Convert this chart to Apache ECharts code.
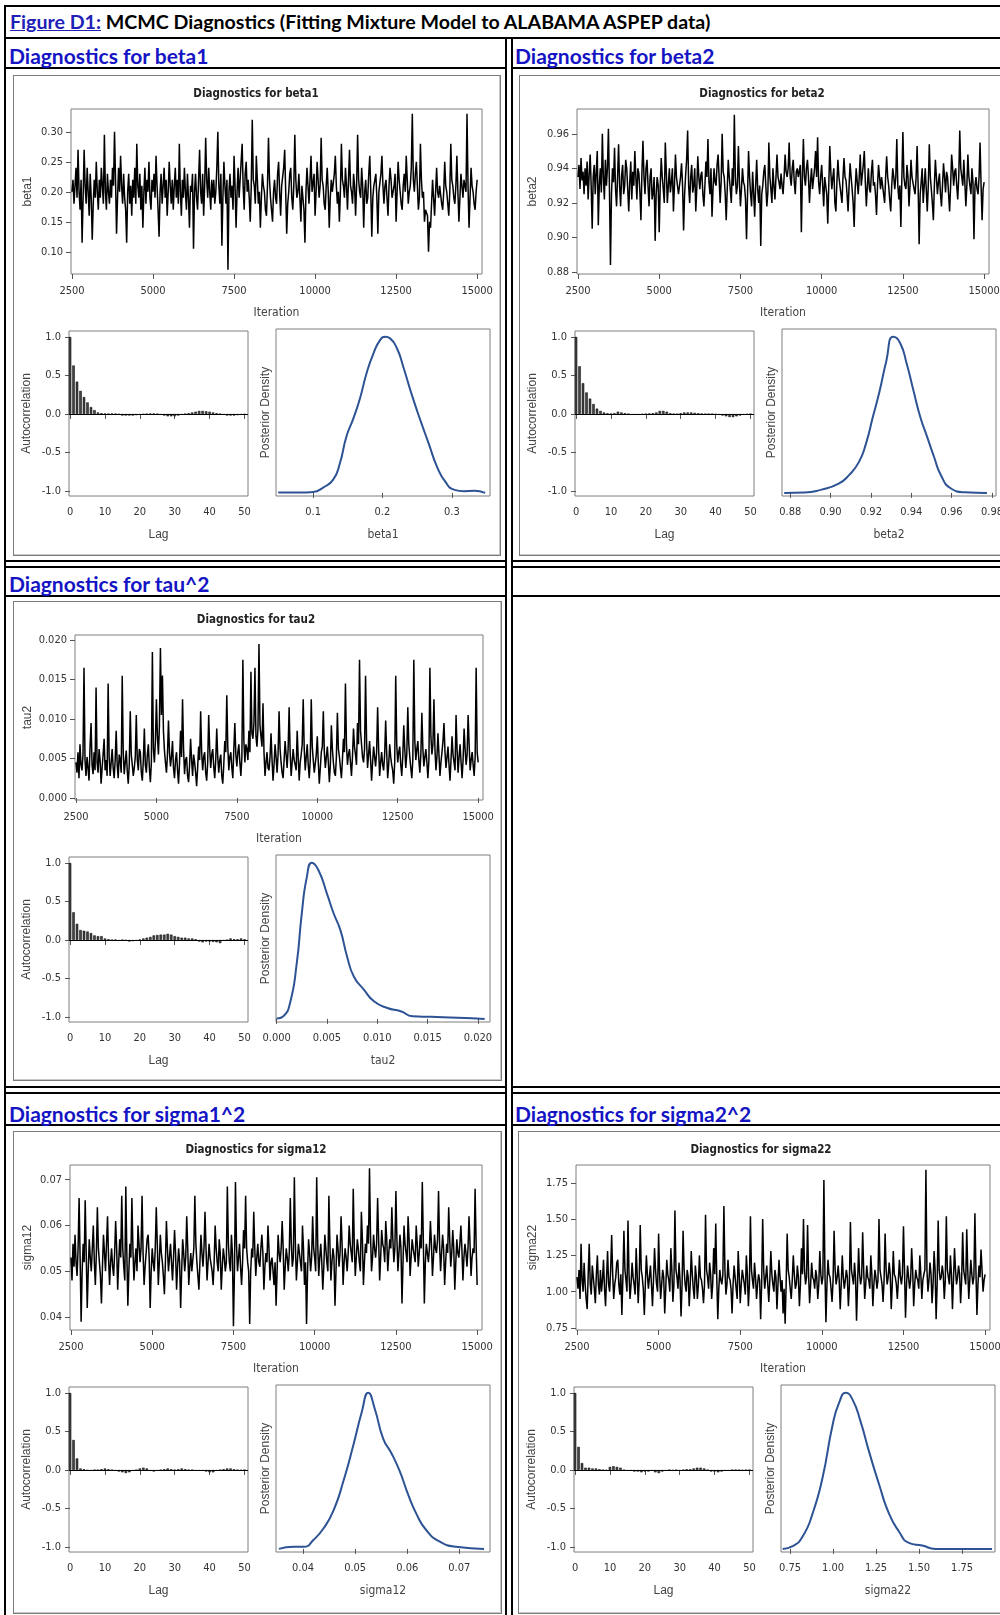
<!DOCTYPE html>
<html>
<head>
<meta charset="utf-8">
<script src="https://cdn.jsdelivr.net/npm/echarts@6/dist/echarts.min.js"></script>
<style>
  body { margin: 0; background: #fff; }
  #page { position: relative; width: 1000px; height: 1615px; overflow: hidden; background: #fff; }
  .h { position: absolute; height: 2px; background: #000; }
  .v { position: absolute; width: 2px; background: #000; }
  .hd { position: absolute; height: 26px; line-height: 26px; white-space: nowrap;
        font-family: Lato, 'Open Sans', sans-serif; font-weight: bold; font-size: 21px; color: #1414c4; }
  .pb { position: absolute; border: 1px solid #7c7c7c; box-shadow: inset -1px -1px 0 #c8c8c8; }
  #chart { position: absolute; left: 0; top: 0; width: 1000px; height: 1615px; }
</style>
</head>
<body>
<div id="page">
  <!-- table frame -->
  <div class="h" style="left:4px;top:5px;width:996px"></div>
  <div class="v" style="left:4px;top:5px;height:1610px"></div>
  <div class="h" style="left:4px;top:37px;width:996px"></div>
  <div class="v" style="left:505px;top:37px;height:1578px"></div>
  <div class="v" style="left:511px;top:37px;height:1578px"></div>

  <div class="h" style="left:4px;top:67px;width:503px"></div>
  <div class="h" style="left:511px;top:67px;width:489px"></div>
  <div class="h" style="left:4px;top:560px;width:503px"></div>
  <div class="h" style="left:511px;top:560px;width:489px"></div>

  <div class="h" style="left:4px;top:566px;width:503px"></div>
  <div class="h" style="left:511px;top:566px;width:489px"></div>
  <div class="h" style="left:4px;top:595px;width:503px"></div>
  <div class="h" style="left:511px;top:595px;width:489px"></div>
  <div class="h" style="left:4px;top:1086px;width:503px"></div>
  <div class="h" style="left:511px;top:1086px;width:489px"></div>

  <div class="h" style="left:4px;top:1092px;width:503px"></div>
  <div class="h" style="left:511px;top:1092px;width:489px"></div>
  <div class="h" style="left:4px;top:1124px;width:503px"></div>
  <div class="h" style="left:511px;top:1124px;width:489px"></div>

  <!-- headers -->
  <div class="hd" style="left:10px;top:9px;color:#000;font-size:19.6px"><span style="color:#2020b8;text-decoration:underline">Figure D1:</span> MCMC Diagnostics (Fitting Mixture Model to ALABAMA ASPEP data)</div>
  <div class="hd" style="left:9px;top:43px">Diagnostics for beta1</div>
  <div class="hd" style="left:515px;top:43px">Diagnostics for beta2</div>
  <div class="hd" style="left:9px;top:571px">Diagnostics for tau^2</div>
  <div class="hd" style="left:9px;top:1101px">Diagnostics for sigma1^2</div>
  <div class="hd" style="left:515px;top:1101px">Diagnostics for sigma2^2</div>

  <!-- SAS panel frames -->
  <div class="pb" style="left:13px;top:75px;width:486px;height:479px"></div>
  <div class="pb" style="left:519px;top:75px;width:500px;height:479px"></div>
  <div class="pb" style="left:13px;top:601px;width:487px;height:478px"></div>
  <div class="pb" style="left:13px;top:1131px;width:487px;height:481px"></div>
  <div class="pb" style="left:518px;top:1131px;width:500px;height:481px"></div>

  <div id="chart"></div>
</div>
<script>
// ---- data ----
const ITER_START = 2500;
const ITER_STEP = 31.25;

const traceTicks = [2500, 5000, 7500, 10000, 12500, 15000];
const lagTicks = [0, 10, 20, 30, 40, 50];
const acfTicks = [-1, -0.5, 0, 0.5, 1];

const traceBeta1 = [
  0.20,0.22,0.18,0.21,0.24,0.19,0.27,0.2,0.17,0.22,0.115,0.19,0.27,0.21,0.18,0.24,0.2,0.16,0.23,0.19,
  0.12,0.18,0.22,0.19,0.25,0.2,0.17,0.22,0.19,0.24,0.21,0.18,0.295,0.2,0.17,0.23,0.2,0.18,0.22,0.19,
  0.24,0.21,0.30,0.22,0.13,0.19,0.24,0.2,0.26,0.21,0.18,0.23,0.19,0.17,0.115,0.2,0.23,0.18,0.21,0.16,
  0.22,0.19,0.24,0.18,0.28,0.21,0.19,0.23,0.17,0.21,0.14,0.2,0.24,0.18,0.22,0.2,0.25,0.19,0.17,0.22,
  0.2,0.23,0.19,0.26,0.21,0.17,0.125,0.2,0.23,0.18,0.21,0.24,0.19,0.22,0.16,0.2,0.25,0.21,0.18,0.22,
  0.17,0.21,0.24,0.19,0.22,0.18,0.28,0.2,0.16,0.22,0.19,0.24,0.2,0.17,0.23,0.19,0.14,0.21,0.2,0.23,
  0.105,0.2,0.23,0.19,0.17,0.22,0.27,0.2,0.18,0.23,0.16,0.21,0.29,0.22,0.19,0.24,0.2,0.17,0.22,0.19,
  0.22,0.18,0.2,0.24,0.30,0.21,0.18,0.23,0.11,0.19,0.25,0.21,0.18,0.22,0.07,0.2,0.23,0.19,0.21,0.17,
  0.26,0.21,0.14,0.2,0.24,0.19,0.22,0.25,0.28,0.21,0.17,0.23,0.25,0.2,0.22,0.19,0.15,0.21,0.32,0.22,
  0.21,0.18,0.26,0.22,0.18,0.2,0.14,0.19,0.23,0.21,0.2,0.17,0.16,0.21,0.29,0.22,0.19,0.17,0.15,0.2,
  0.22,0.19,0.18,0.23,0.25,0.2,0.16,0.21,0.21,0.24,0.27,0.2,0.13,0.18,0.2,0.23,0.24,0.19,0.17,0.21,
  0.295,0.22,0.19,0.2,0.23,0.19,0.15,0.21,0.21,0.17,0.115,0.2,0.24,0.21,0.18,0.22,0.26,0.2,0.2,0.23,
  0.16,0.2,0.25,0.22,0.19,0.21,0.29,0.22,0.21,0.18,0.17,0.21,0.24,0.2,0.14,0.19,0.22,0.2,0.2,0.23,
  0.26,0.21,0.18,0.2,0.15,0.2,0.28,0.22,0.21,0.19,0.24,0.21,0.17,0.22,0.27,0.21,0.2,0.18,0.23,0.21,
  0.16,0.21,0.295,0.22,0.2,0.19,0.24,0.21,0.14,0.2,0.22,0.18,0.19,0.23,0.26,0.2,0.125,0.19,0.21,0.22,
  0.23,0.19,0.13,0.2,0.2,0.23,0.26,0.21,0.18,0.21,0.22,0.19,0.16,0.21,0.24,0.22,0.19,0.2,0.21,0.23,
  0.15,0.2,0.25,0.22,0.2,0.18,0.17,0.21,0.23,0.2,0.26,0.22,0.18,0.2,0.21,0.24,0.33,0.22,0.2,0.23,
  0.25,0.21,0.17,0.19,0.28,0.22,0.19,0.2,0.15,0.17,0.17,0.16,0.10,0.15,0.14,0.18,0.22,0.19,0.16,0.2,
  0.24,0.2,0.19,0.21,0.21,0.18,0.17,0.2,0.25,0.21,0.2,0.18,0.16,0.2,0.28,0.22,0.21,0.19,0.18,0.21,
  0.26,0.2,0.15,0.19,0.23,0.21,0.19,0.22,0.22,0.2,0.33,0.21,0.14,0.19,0.24,0.21,0.2,0.18,0.17,0.2,
  0.22
];
const traceBeta2 = [
  0.935,0.942,0.928,0.946,0.933,0.938,0.925,0.94,0.93,0.944,0.922,0.936,0.948,0.93,0.905,0.935,0.942,0.925,0.938,0.95,
  0.907,0.93,0.94,0.926,0.960,0.935,0.922,0.945,0.93,0.94,0.963,0.928,0.884,0.925,0.94,0.932,0.952,0.928,0.918,0.935,
  0.954,0.93,0.918,0.936,0.942,0.925,0.93,0.945,0.94,0.928,0.915,0.932,0.944,0.922,0.938,0.93,0.95,0.935,0.922,0.94,
  0.937,0.926,0.91,0.938,0.956,0.935,0.925,0.94,0.945,0.93,0.918,0.935,0.94,0.922,0.926,0.935,0.898,0.925,0.935,0.93,
  0.903,0.93,0.946,0.935,0.928,0.92,0.955,0.938,0.92,0.93,0.94,0.926,0.932,0.94,0.915,0.93,0.948,0.935,0.93,0.925,
  0.924,0.935,0.943,0.93,0.904,0.925,0.936,0.945,0.962,0.93,0.92,0.935,0.942,0.926,0.93,0.94,0.915,0.928,0.947,0.935,
  0.928,0.936,0.938,0.925,0.918,0.93,0.944,0.935,0.957,0.932,0.925,0.94,0.912,0.928,0.94,0.932,0.93,0.942,0.948,0.935,
  0.92,0.932,0.96,0.938,0.935,0.925,0.91,0.928,0.945,0.935,0.928,0.92,0.94,0.93,0.971,0.935,0.925,0.93,0.953,0.932,
  0.918,0.928,0.94,0.932,0.93,0.922,0.899,0.925,0.95,0.935,0.925,0.918,0.938,0.926,0.912,0.93,0.945,0.928,0.92,0.93,
  0.895,0.925,0.93,0.938,0.942,0.93,0.918,0.926,0.955,0.935,0.928,0.92,0.94,0.93,0.922,0.935,0.948,0.935,0.932,0.928,
  0.937,0.93,0.925,0.935,0.948,0.938,0.935,0.94,0.955,0.935,0.93,0.94,0.945,0.932,0.925,0.938,0.94,0.935,0.935,0.942,
  0.903,0.935,0.957,0.935,0.93,0.94,0.945,0.935,0.92,0.932,0.94,0.928,0.928,0.94,0.95,0.935,0.958,0.932,0.925,0.935,
  0.942,0.93,0.918,0.935,0.935,0.925,0.908,0.93,0.953,0.938,0.928,0.935,0.94,0.92,0.915,0.932,0.945,0.935,0.93,0.925,
  0.92,0.935,0.946,0.935,0.933,0.925,0.915,0.93,0.943,0.935,0.928,0.92,0.906,0.928,0.94,0.932,0.925,0.935,0.948,0.93,
  0.93,0.942,0.95,0.932,0.918,0.93,0.94,0.928,0.926,0.938,0.945,0.93,0.932,0.925,0.913,0.93,0.942,0.935,0.928,0.935,
  0.936,0.925,0.92,0.935,0.947,0.935,0.93,0.922,0.915,0.93,0.94,0.935,0.928,0.935,0.957,0.93,0.922,0.93,0.906,0.935,
  0.961,0.935,0.93,0.928,0.942,0.935,0.918,0.93,0.945,0.935,0.935,0.928,0.925,0.935,0.953,0.93,0.896,0.925,0.932,0.94,
  0.92,0.93,0.94,0.928,0.915,0.93,0.954,0.935,0.928,0.92,0.91,0.93,0.945,0.935,0.925,0.932,0.937,0.925,0.918,0.93,
  0.943,0.935,0.926,0.938,0.935,0.925,0.915,0.93,0.948,0.94,0.93,0.938,0.94,0.93,0.922,0.935,0.962,0.94,0.935,0.93,
  0.945,0.932,0.918,0.93,0.948,0.935,0.93,0.925,0.94,0.932,0.899,0.93,0.935,0.928,0.925,0.935,0.955,0.93,0.91,0.928,
  0.932
];
const traceTau2 = [
  0.0045,0.0032,0.0058,0.0025,0.0068,0.0042,0.0035,0.0055,0.0165,0.0048,0.0028,0.0052,0.0038,0.0022,0.0065,0.0095,0.0042,0.003,0.0058,0.0035,
  0.014,0.0045,0.0032,0.0062,0.0048,0.0018,0.0038,0.0055,0.0075,0.0035,0.0048,0.0028,0.0145,0.0052,0.0028,0.0045,0.0062,0.0038,0.0025,0.0048,
  0.0085,0.0042,0.0025,0.0055,0.0048,0.0032,0.0155,0.0058,0.003,0.0045,0.006,0.0035,0.0018,0.0042,0.011,0.0055,0.0042,0.0028,0.0038,0.0052,
  0.0105,0.0048,0.0035,0.0062,0.0058,0.0032,0.0022,0.0048,0.0088,0.0042,0.0032,0.0055,0.0068,0.0038,0.002,0.0045,0.0185,0.0062,0.0045,0.0072,
  0.0125,0.0078,0.0055,0.0092,0.019,0.0105,0.0155,0.0085,0.006,0.0045,0.0032,0.0055,0.0098,0.0058,0.004,0.0052,0.0072,0.0038,0.0025,0.0048,
  0.0058,0.0035,0.0018,0.0045,0.0085,0.0052,0.0125,0.0062,0.003,0.0048,0.0052,0.0028,0.002,0.0042,0.0075,0.0048,0.0028,0.0055,0.0045,0.0032,
  0.0015,0.0038,0.0065,0.0048,0.011,0.0058,0.0035,0.0052,0.0058,0.0032,0.0022,0.0045,0.0105,0.0062,0.0038,0.0055,0.0062,0.004,0.0025,0.0048,
  0.0088,0.0052,0.0032,0.0048,0.0055,0.0028,0.0018,0.0042,0.0072,0.0058,0.013,0.0065,0.0035,0.0052,0.0058,0.0038,0.0025,0.0062,0.0095,0.0055,
  0.004,0.0058,0.0068,0.0045,0.0028,0.0052,0.0175,0.0072,0.0045,0.0068,0.0062,0.0048,0.0085,0.0058,0.016,0.0082,0.0075,0.0095,0.0165,0.0078,
  0.0065,0.0088,0.0195,0.0092,0.0078,0.0065,0.012,0.0058,0.0028,0.0045,0.0058,0.0038,0.0035,0.0052,0.0082,0.0048,0.0022,0.0042,0.0068,0.0052,
  0.0032,0.0055,0.011,0.0062,0.0045,0.0032,0.0025,0.0048,0.0072,0.0055,0.0038,0.0062,0.0115,0.0058,0.0028,0.0045,0.0062,0.0048,0.0042,0.0035,
  0.0085,0.0052,0.0022,0.0045,0.0055,0.0068,0.0125,0.0062,0.0035,0.0052,0.0068,0.0042,0.0025,0.0048,0.0125,0.0065,0.0048,0.0032,0.0032,0.0055,
  0.0078,0.0045,0.0018,0.0038,0.0058,0.0065,0.011,0.0058,0.0038,0.0052,0.0065,0.0045,0.002,0.0042,0.0092,0.0062,0.0045,0.0032,0.0028,0.0052,
  0.0108,0.0062,0.0052,0.0038,0.0025,0.0048,0.0075,0.0058,0.0145,0.0068,0.0042,0.0055,0.0062,0.0045,0.0028,0.0052,0.0088,0.0065,0.0055,0.0042,
  0.0095,0.0068,0.0175,0.0085,0.0068,0.0052,0.0045,0.0062,0.0155,0.0072,0.0038,0.0055,0.0072,0.0048,0.0022,0.0045,0.0065,0.0052,0.004,0.0058,
  0.0115,0.0062,0.0028,0.0045,0.0058,0.0042,0.0035,0.0055,0.0098,0.0058,0.0025,0.0042,0.0068,0.0052,0.0042,0.0035,0.0018,0.0045,0.0155,0.0068,
  0.0045,0.0058,0.0065,0.0042,0.0028,0.0052,0.0092,0.0062,0.0038,0.0055,0.0115,0.0068,0.0052,0.0038,0.0025,0.0048,0.0175,0.0072,0.0048,0.0062,
  0.0072,0.0048,0.0032,0.0055,0.0108,0.0062,0.004,0.0052,0.0062,0.0045,0.0025,0.0048,0.0165,0.0078,0.0055,0.0068,0.0125,0.0062,0.0035,0.0052,
  0.0082,0.0055,0.0028,0.0045,0.0058,0.0072,0.0095,0.0058,0.0038,0.0052,0.0065,0.0042,0.0022,0.0048,0.0078,0.0055,0.0045,0.0035,0.0105,0.0062,
  0.0032,0.0052,0.0068,0.0045,0.0025,0.0048,0.0088,0.0062,0.0042,0.0055,0.0105,0.0068,0.0035,0.0048,0.0058,0.0042,0.0028,0.0052,0.0165,0.0058,
  0.0045
];
const traceSigma12 = [
  0.053,0.048,0.056,0.051,0.058,0.052,0.049,0.055,0.066,0.053,0.039,0.05,0.056,0.052,0.0655,0.054,0.042,0.05,0.057,0.053,
  0.05,0.055,0.06,0.052,0.047,0.054,0.064,0.055,0.052,0.049,0.043,0.051,0.058,0.054,0.05,0.056,0.062,0.053,0.047,0.052,
  0.055,0.051,0.049,0.054,0.061,0.055,0.046,0.052,0.057,0.053,0.0665,0.055,0.051,0.048,0.0685,0.054,0.0425,0.05,0.056,0.053,
  0.066,0.055,0.048,0.052,0.055,0.05,0.06,0.056,0.052,0.055,0.0665,0.054,0.047,0.051,0.054,0.057,0.058,0.053,0.042,0.05,
  0.055,0.052,0.05,0.055,0.064,0.056,0.047,0.052,0.058,0.054,0.052,0.049,0.045,0.052,0.061,0.055,0.05,0.053,0.056,0.052,
  0.048,0.053,0.059,0.054,0.046,0.051,0.055,0.052,0.042,0.05,0.057,0.054,0.05,0.053,0.062,0.055,0.047,0.051,0.054,0.05,
  0.05,0.055,0.0665,0.056,0.052,0.049,0.046,0.052,0.058,0.054,0.051,0.055,0.063,0.055,0.048,0.052,0.056,0.053,0.053,0.05,
  0.047,0.052,0.06,0.055,0.052,0.05,0.057,0.054,0.046,0.051,0.055,0.053,0.05,0.052,0.0685,0.056,0.052,0.05,0.058,0.054,
  0.038,0.05,0.0695,0.056,0.05,0.053,0.056,0.051,0.047,0.052,0.059,0.055,0.0665,0.055,0.052,0.05,0.0385,0.05,0.055,0.053,
  0.063,0.055,0.049,0.053,0.056,0.052,0.051,0.055,0.058,0.054,0.046,0.051,0.054,0.052,0.06,0.055,0.048,0.052,0.053,0.05,
  0.047,0.052,0.0425,0.05,0.058,0.054,0.052,0.055,0.061,0.055,0.046,0.051,0.055,0.053,0.05,0.054,0.066,0.056,0.051,0.053,
  0.0705,0.056,0.048,0.052,0.056,0.054,0.052,0.05,0.06,0.055,0.047,0.052,0.0385,0.05,0.057,0.054,0.05,0.053,0.062,0.055,
  0.053,0.05,0.0705,0.056,0.049,0.053,0.056,0.052,0.046,0.051,0.058,0.055,0.052,0.05,0.0665,0.056,0.048,0.052,0.055,0.053,
  0.0425,0.05,0.058,0.055,0.051,0.054,0.062,0.056,0.047,0.052,0.055,0.053,0.05,0.054,0.06,0.056,0.054,0.052,0.068,0.056,
  0.049,0.053,0.057,0.055,0.052,0.05,0.063,0.057,0.047,0.052,0.056,0.054,0.06,0.056,0.0725,0.058,0.05,0.053,0.058,0.055,
  0.053,0.056,0.066,0.057,0.048,0.053,0.059,0.056,0.055,0.052,0.061,0.057,0.05,0.054,0.057,0.055,0.064,0.057,0.052,0.055,
  0.0675,0.057,0.05,0.054,0.058,0.055,0.043,0.052,0.06,0.056,0.054,0.052,0.062,0.057,0.049,0.053,0.057,0.055,0.055,0.052,
  0.06,0.056,0.051,0.054,0.058,0.055,0.0695,0.057,0.043,0.052,0.056,0.054,0.052,0.055,0.061,0.056,0.049,0.053,0.058,0.055,
  0.054,0.057,0.0675,0.056,0.05,0.054,0.058,0.055,0.047,0.052,0.056,0.054,0.064,0.057,0.051,0.054,0.059,0.055,0.046,0.052,
  0.057,0.054,0.053,0.056,0.06,0.055,0.048,0.053,0.056,0.054,0.051,0.055,0.062,0.056,0.049,0.053,0.055,0.054,0.068,0.056,
  0.047
];
const traceSigma22 = [
  1.1,1.02,1.15,0.95,1.33,1.08,1.0,1.2,1.05,0.95,0.88,1.12,1.33,1.05,0.98,1.18,1.1,1.02,0.92,1.12,
  1.25,1.05,0.98,1.15,1.0,1.08,1.22,1.02,0.9,1.1,1.28,1.05,1.0,1.15,1.39,1.12,0.95,1.05,1.1,1.2,
  1.22,1.05,0.98,1.12,0.84,1.1,1.42,1.15,1.08,1.0,1.49,1.12,0.95,1.05,1.2,1.1,1.05,0.98,1.3,1.12,
  0.92,1.08,1.46,1.15,1.1,1.02,0.84,1.05,1.25,1.12,1.02,1.1,1.18,1.05,0.9,1.08,1.3,1.15,1.05,1.0,
  1.4,1.12,0.95,1.05,1.15,1.1,0.85,1.02,1.22,1.12,1.08,1.0,1.3,1.15,0.93,1.05,1.56,1.15,1.1,1.02,
  1.2,1.08,0.83,1.05,1.42,1.15,1.05,1.0,1.15,1.1,0.9,1.05,1.28,1.12,1.02,0.95,1.18,1.1,0.95,1.05,
  1.25,1.1,1.08,1.02,0.92,1.05,1.53,1.15,1.1,1.02,1.2,1.12,0.95,1.05,1.3,1.12,1.47,1.1,0.81,1.02,
  1.15,1.08,1.05,1.12,1.59,1.15,0.98,1.05,1.22,1.1,1.08,1.02,0.85,1.05,1.18,1.1,1.02,0.95,1.28,1.12,
  0.92,1.05,1.15,1.1,1.05,0.98,1.25,1.12,0.9,1.05,1.52,1.15,1.08,1.02,1.2,1.1,0.95,1.05,1.12,1.08,
  0.81,1.05,1.5,1.15,1.02,1.1,1.18,1.05,0.93,1.08,1.28,1.12,1.05,1.0,1.15,1.1,0.88,1.05,1.22,1.1,
  1.0,1.08,0.85,1.02,0.78,1.05,1.4,1.15,1.1,1.02,0.95,1.08,1.25,1.12,1.02,1.05,1.18,1.1,0.9,1.05,
  1.3,1.12,1.5,1.15,1.05,1.1,1.46,1.12,0.92,1.05,1.2,1.1,1.08,1.02,1.15,1.1,0.95,1.05,1.28,1.12,
  1.05,1.1,1.77,1.15,0.79,1.05,1.22,1.12,1.1,1.02,0.93,1.08,1.42,1.15,1.05,1.1,1.18,1.08,0.88,1.05,
  1.25,1.1,1.02,1.08,1.15,1.1,0.9,1.05,1.48,1.15,1.1,1.05,1.2,1.1,0.8,1.05,1.3,1.12,1.05,1.1,
  1.41,1.15,0.95,1.05,1.18,1.1,1.08,1.02,1.25,1.12,0.9,1.05,1.15,1.1,1.02,1.08,1.5,1.15,1.1,1.05,
  0.93,1.08,1.4,1.15,1.05,1.1,1.2,1.12,0.88,1.05,1.28,1.12,1.1,1.05,0.95,1.08,1.22,1.1,1.05,1.12,
  1.45,1.15,0.82,1.05,1.18,1.1,1.02,1.08,1.3,1.15,0.9,1.05,1.15,1.1,1.08,1.02,1.25,1.12,0.95,1.08,
  1.12,1.15,1.84,1.15,1.0,1.08,1.2,1.12,0.92,1.05,1.28,1.15,0.81,1.05,1.49,1.15,1.08,1.1,1.18,1.12,
  0.95,1.08,1.52,1.15,1.1,1.05,1.25,1.12,0.88,1.08,1.3,1.15,1.05,1.1,1.18,1.12,0.92,1.08,1.41,1.15,
  1.1,1.05,1.43,1.15,0.95,1.08,1.22,1.12,1.05,1.1,1.54,1.15,0.84,1.05,1.18,1.1,1.29,1.15,1.0,1.08,
  1.12
];

// autocorrelation, lags 0..50
const acfBeta1 = [1.0,0.63,0.42,0.30,0.22,0.15,0.09,0.05,0.02,0.01,0.005,0,0.005,0,-0.005,-0.02,-0.02,-0.02,-0.02,-0.015,-0.01,-0.005,0,0.005,0.005,0,-0.01,-0.02,-0.03,-0.03,-0.03,-0.02,-0.01,0,0.01,0.02,0.03,0.04,0.04,0.035,0.03,0.02,0.01,0,-0.01,-0.02,-0.02,-0.02,-0.015,-0.01,-0.005];
const acfBeta2 = [1.0,0.62,0.40,0.28,0.20,0.13,0.07,0.04,0.02,0.01,0.005,0.01,0.03,0.02,0.01,0,-0.01,-0.01,-0.01,-0.005,0,0.005,0.01,0.02,0.04,0.04,0.03,0.01,0,0,0.01,0.02,0.02,0.02,0.015,0.01,0.005,0,0,0,-0.005,-0.01,-0.02,-0.03,-0.04,-0.04,-0.03,-0.02,-0.01,-0.005,0];
const acfTau2 = [1.0,0.36,0.21,0.13,0.12,0.11,0.09,0.06,0.05,0.05,0.02,0.01,0,0.005,-0.01,0,-0.005,-0.02,-0.015,-0.01,0.005,0.02,0.03,0.04,0.06,0.065,0.07,0.07,0.08,0.07,0.05,0.04,0.03,0.03,0.02,0.02,0.01,-0.02,-0.03,-0.02,-0.02,-0.025,-0.03,-0.04,-0.01,0,0.02,0.01,0.01,0.02,0.01];
const acfSigma12 = [1.0,0.39,0.15,0.02,0.01,-0.005,-0.01,0,0,0.01,0.02,0.01,0,-0.01,-0.02,-0.03,-0.04,-0.03,-0.01,0,0.02,0.03,0.02,-0.01,-0.02,-0.01,0,0.01,0.02,0.01,0,0.01,0.02,0.01,0,0,-0.01,-0.01,-0.01,-0.02,-0.03,-0.03,-0.01,0,0.01,0.02,0.02,0.01,0,-0.005,0];
const acfSigma22 = [1.0,0.30,0.09,0.03,0.03,0.02,0.02,0.01,0,-0.005,0.04,0.05,0.04,0.03,0,-0.01,-0.01,-0.02,-0.02,-0.03,-0.02,-0.02,-0.01,-0.03,-0.04,-0.02,-0.01,0,-0.005,0,-0.01,0,0.01,0.01,0.02,0.03,0.03,0.02,0,-0.02,-0.02,-0.03,-0.02,-0.01,-0.01,0,0,0,-0.005,0,0];

// posterior density curves (peak scaled to 1)
const densBeta1X = [0.0498,0.0807,0.1,0.1145,0.129,0.1386,0.148,0.158,0.1676,0.177,0.187,0.1966,0.204,0.211,0.221,0.230,0.2425,0.2546,0.2667,0.2787,0.2908,0.303,0.3174,0.332,0.348];
const densBeta1Y = [0.002,0.002,0.006,0.034,0.085,0.188,0.36,0.476,0.605,0.765,0.893,0.979,1.0,0.99,0.925,0.808,0.626,0.466,0.316,0.167,0.07,0.021,0.011,0.013,0.0];
const densBeta2X = [0.877,0.887,0.8955,0.904,0.909,0.914,0.9175,0.9209,0.9243,0.9276,0.931,0.9344,0.9378,0.9411,0.9445,0.9479,0.9513,0.9547,0.9597,0.9665,0.9775];
const densBeta2Y = [0,0.002,0.021,0.059,0.112,0.197,0.314,0.484,0.653,0.844,1.0,0.962,0.824,0.654,0.484,0.357,0.23,0.113,0.028,0.004,0];
const densTau2X = [0.0,0.00067,0.00133,0.002,0.0025,0.003,0.0035,0.00417,0.005,0.00567,0.00633,0.007,0.00767,0.00867,0.00967,0.011,0.01233,0.0135,0.01533,0.018,0.02067];
const densTau2Y = [0.002,0.017,0.1,0.355,0.675,0.908,1.0,0.951,0.803,0.675,0.57,0.4,0.272,0.187,0.113,0.07,0.049,0.017,0.013,0.008,0];
const densSigma12X = [0.03536,0.03822,0.04013,0.04203,0.04394,0.04585,0.04775,0.04966,0.05125,0.05252,0.05379,0.05538,0.05697,0.05856,0.06015,0.06174,0.06364,0.06618,0.06936,0.07476];
const densSigma12Y = [0,0.013,0.013,0.059,0.132,0.247,0.435,0.665,0.874,1.0,0.895,0.707,0.613,0.498,0.351,0.226,0.121,0.048,0.013,0];
const densSigma22X = [0.7075,0.7654,0.8234,0.8813,0.9392,0.9971,1.0357,1.0743,1.113,1.1612,1.2095,1.2674,1.3253,1.3832,1.4411,1.5183,1.5956,1.9237];
const densSigma22Y = [0,0.017,0.079,0.226,0.456,0.791,0.937,1.0,0.958,0.812,0.623,0.414,0.226,0.111,0.038,0.021,0,0];

// ---- panel layout ----
const NARROW = "'Liberation Sans Narrow', 'Arial Narrow', 'DejaVu Sans Condensed', sans-serif";
const REG = "'Liberation Sans', Arial, sans-serif";

const panels = [
  { name: 'beta1', ox: 13, oy: 75, trace: traceBeta1, yMin: 0.063, yMax: 0.338, yTicks: [0.10, 0.15, 0.20, 0.25, 0.30], yDec: 2,
    acf: acfBeta1, dx: densBeta1X, dy: densBeta1Y, dMin: 0.0466, dMax: 0.355, dTicks: [0.1, 0.2, 0.3], dDec: 1,
    tLeft: 58, tWidth: 411, yGap: 37 },
  { name: 'beta2', ox: 519, oy: 75, trace: traceBeta2, yMin: 0.8788, yMax: 0.9744, yTicks: [0.88, 0.90, 0.92, 0.94, 0.96], yDec: 2,
    acf: acfBeta2, dx: densBeta2X, dy: densBeta2Y, dMin: 0.8759, dMax: 0.982, dTicks: [0.88, 0.90, 0.92, 0.94, 0.96, 0.98], dDec: 2,
    tLeft: 58, tWidth: 412, yGap: 38 },
  { name: 'tau2', ox: 13, oy: 601, trace: traceTau2, yMin: -0.00026, yMax: 0.02065, yTicks: [0, 0.005, 0.010, 0.015, 0.020], yDec: 3,
    acf: acfTau2, dx: densTau2X, dy: densTau2Y, dMin: -0.00006, dMax: 0.0212, dTicks: [0, 0.005, 0.010, 0.015, 0.020], dDec: 3,
    tLeft: 62, tWidth: 408, yGap: 41 },
  { name: 'sigma12', ox: 13, oy: 1131, trace: traceSigma12, yMin: 0.0372, yMax: 0.0732, yTicks: [0.04, 0.05, 0.06, 0.07], yDec: 2,
    acf: acfSigma12, dx: densSigma12X, dy: densSigma12Y, dMin: 0.0348, dMax: 0.0759, dTicks: [0.04, 0.05, 0.06, 0.07], dDec: 2,
    tLeft: 57, tWidth: 412, yGap: 36 },
  { name: 'sigma22', ox: 518, oy: 1131, trace: traceSigma22, yMin: 0.736, yMax: 1.873, yTicks: [0.75, 1.00, 1.25, 1.50, 1.75], yDec: 2,
    acf: acfSigma22, dx: densSigma22X, dy: densSigma22Y, dMin: 0.698, dMax: 1.941, dTicks: [0.75, 1.00, 1.25, 1.50, 1.75], dDec: 2,
    tLeft: 58, tWidth: 414, yGap: 37 }
];

const boxStyle = { show: true, borderColor: '#7f7f7f', borderWidth: 1, backgroundColor: 'transparent', outerBoundsMode: 'none' };
const tickStyle = { length: 5, lineStyle: { color: '#555', width: 1 } };
const labelStyle = { color: '#333', fontSize: 11, fontFamily: NARROW };
const plain = v => String(Math.round(v));

function valueAxis(gridIndex, min, max, ticks, fmt, margin, extra) {
  return Object.assign({
    gridIndex, type: 'value', min, max, scale: true,
    axisLine: { show: false },
    splitLine: { show: false },
    axisTick: Object.assign({ show: true, customValues: ticks }, tickStyle),
    axisLabel: Object.assign({ show: true, customValues: ticks, formatter: fmt, margin }, labelStyle),
    nameLocation: 'middle'
  }, extra);
}
const fixed = d => (v => Number(v).toFixed(d));

const grid = [], xAxis = [], yAxis = [], series = [], graphic = [];

panels.forEach((p, k) => {
  const g = 3 * k;
  // trace plot
  grid.push(Object.assign({ left: p.ox + p.tLeft, top: p.oy + 34, width: p.tWidth, height: 165 }, boxStyle));
  // autocorrelation
  grid.push(Object.assign({ left: p.ox + 56, top: p.oy + 256, width: 179, height: 165 }, boxStyle));
  // density
  grid.push(Object.assign({ left: p.ox + 263, top: p.oy + 254, width: 214, height: 167 }, boxStyle));

  xAxis.push(valueAxis(g, 2470, 15150, traceTicks, plain, 12, {
    name: 'Iteration', nameGap: 33, nameTextStyle: { fontSize: 12, color: '#444', fontFamily: NARROW }
  }));
  yAxis.push(valueAxis(g, p.yMin, p.yMax, p.yTicks, fixed(p.yDec), 8, {
    name: p.name, nameGap: p.yGap, nameTextStyle: { fontSize: 12, color: '#444', fontFamily: REG }
  }));

  xAxis.push(valueAxis(g + 1, -0.3, 51, lagTicks, plain, 11, {
    name: 'Lag', nameGap: 33, nameTextStyle: { fontSize: 12, color: '#444', fontFamily: REG }
  }));
  yAxis.push(valueAxis(g + 1, -1.065, 1.078, acfTicks, fixed(1), 8, {
    name: 'Autocorrelation', nameGap: 36, nameTextStyle: { fontSize: 12, color: '#444', fontFamily: REG }
  }));

  xAxis.push(valueAxis(g + 2, p.dMin, p.dMax, p.dTicks, fixed(p.dDec), 11, {
    name: p.name, nameGap: 33, nameTextStyle: { fontSize: 12, color: '#444', fontFamily: NARROW }
  }));
  yAxis.push({
    gridIndex: g + 2, type: 'value', min: -0.02, max: 1.05,
    axisLine: { show: false }, axisTick: { show: false }, axisLabel: { show: false }, splitLine: { show: false },
    name: 'Posterior Density', nameLocation: 'middle', nameGap: 4,
    nameTextStyle: { fontSize: 12, color: '#444', fontFamily: REG }
  });

  series.push({
    type: 'line', xAxisIndex: g, yAxisIndex: g, symbol: 'none', silent: true,
    data: p.trace.map((v, i) => [ITER_START + i * ITER_STEP, v]),
    lineStyle: { color: '#000', width: 1.5 }
  });
  series.push({
    type: 'bar', xAxisIndex: g + 1, yAxisIndex: g + 1, silent: true, barWidth: 2.5,
    data: p.acf.map((v, i) => [i, v]),
    itemStyle: { color: '#444', borderColor: '#000', borderWidth: 0.5 },
    markLine: { silent: true, symbol: 'none', label: { show: false },
      lineStyle: { color: '#000', width: 1, type: 'solid' }, data: [{ yAxis: 0 }] }
  });
  series.push({
    type: 'line', xAxisIndex: g + 2, yAxisIndex: g + 2, symbol: 'none', silent: true,
    smooth: 0.55,
    data: p.dx.map((x, i) => [x, p.dy[i]]),
    lineStyle: { color: '#2d5394', width: 2 }
  });

  graphic.push({
    type: 'text', x: p.ox + 243, y: p.oy + 19, silent: true,
    style: { text: 'Diagnostics for ' + p.name, fill: '#222', font: 'bold 11.5px ' + NARROW,
      textAlign: 'center', textVerticalAlign: 'middle' }
  });
});

const chart = echarts.init(document.getElementById('chart'), null, { renderer: 'canvas' });
chart.setOption({ animation: false, grid, xAxis, yAxis, series, graphic });
</script>
</body>
</html>
